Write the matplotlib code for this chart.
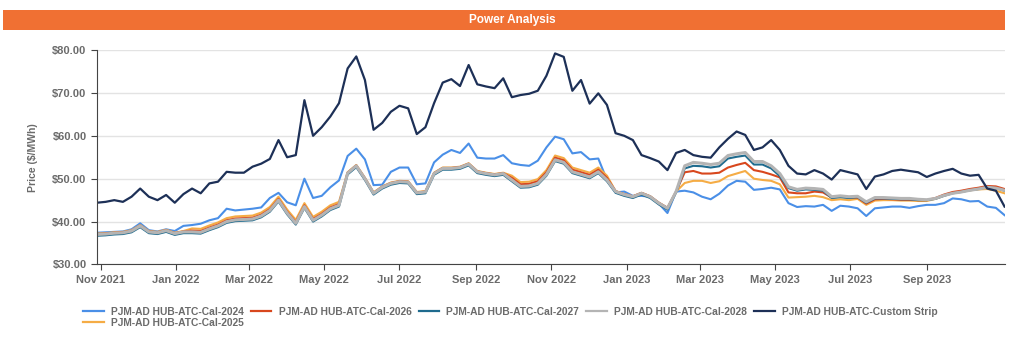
import matplotlib
matplotlib.use("Agg")
import matplotlib.pyplot as plt
import matplotlib.dates as mdates
from matplotlib.patches import Rectangle
from matplotlib.ticker import FuncFormatter
import pandas as pd

# weekly closing prices, $/MWh
dates = pd.date_range("2021-10-29", periods=106, freq="7D")

cal_2024 = [37.4, 37.5, 37.6, 37.7, 38.2, 39.6, 38.0, 37.7, 38.2, 37.8,
            39.0, 39.2, 39.5, 40.3, 40.8, 43.0, 42.6, 42.8, 43.0, 43.3,
            45.5, 46.7, 44.5, 43.8, 50.0, 45.5, 46.0, 48.0, 49.6, 55.3,
            57.0, 54.5, 48.5, 48.6, 51.6, 52.6, 52.6, 48.7, 48.9, 53.8,
            55.6, 56.7, 56.0, 58.2, 54.9, 54.7, 54.7, 55.5, 53.6, 53.2,
            53.0, 54.2, 57.3, 59.8, 59.2, 55.9, 56.2, 54.5, 54.7, 49.7,
            46.8, 47.0, 46.0, 46.0, 45.8, 44.2, 42.0, 47.0, 47.2, 46.8,
            45.8, 45.2, 46.5, 48.4, 49.5, 49.3, 47.4, 47.6, 47.9, 47.5,
            44.3, 43.4, 43.6, 43.5, 43.9, 42.5, 43.7, 43.5, 43.1, 41.3,
            43.1, 43.3, 43.5, 43.5, 43.2, 43.6, 43.9, 43.9, 44.3, 45.4,
            45.2, 44.7, 44.8, 43.5, 43.2, 41.5]

cal_2025 = [37.2, 37.3, 37.5, 37.6, 38.0, 39.2, 37.8, 37.6, 38.1, 37.4,
            37.8, 38.4, 38.3, 39.1, 39.8, 40.8, 41.2, 41.3, 41.4, 42.1,
            43.4, 45.8, 42.8, 40.4, 44.3, 41.1, 42.3, 43.8, 44.6, 51.5,
            53.2, 50.2, 46.8, 48.2, 49.1, 49.5, 49.4, 46.9, 47.1, 51.4,
            52.6, 52.6, 52.8, 53.6, 51.8, 51.4, 51.1, 51.4, 50.7, 49.2,
            49.3, 49.9, 52.0, 55.4, 54.8, 52.6, 52.0, 51.4, 52.6, 50.7,
            47.1, 46.4, 45.9, 46.7, 45.9, 44.4, 43.2, 47.0, 49.0, 49.5,
            49.5, 49.0, 49.4, 50.6, 51.2, 51.8, 50.0, 49.7, 49.5, 48.7,
            45.6, 45.7, 45.8, 46.0, 45.7, 45.0, 45.2, 45.0, 45.3, 43.9,
            44.9, 45.0, 45.0, 44.9, 44.9, 44.8, 44.8, 45.3, 46.1, 46.7,
            47.0, 47.3, 47.5, 47.6, 47.2, 46.6]

cal_2026 = [37.1, 37.2, 37.4, 37.5, 37.9, 39.1, 37.7, 37.5, 38.0, 37.3,
            37.7, 37.9, 37.8, 38.6, 39.3, 40.3, 40.7, 40.8, 40.9, 41.6,
            42.9, 45.3, 42.3, 39.9, 43.8, 40.6, 41.8, 43.3, 44.1, 51.4,
            53.1, 50.1, 46.7, 48.1, 49.0, 49.4, 49.3, 46.8, 47.0, 51.3,
            52.5, 52.5, 52.7, 53.5, 51.7, 51.3, 51.0, 51.3, 50.2, 48.7,
            48.8, 49.4, 51.5, 54.9, 54.3, 52.1, 51.5, 50.9, 52.1, 50.2,
            47.1, 46.4, 45.9, 46.7, 45.9, 44.4, 43.2, 47.0, 51.5, 51.8,
            51.2, 51.2, 51.4, 52.6, 53.2, 53.7, 52.0, 51.6, 51.0, 50.3,
            46.8, 46.6, 46.6, 47.0, 46.8, 45.6, 45.8, 45.6, 45.6, 44.2,
            45.2, 45.3, 45.2, 45.1, 45.1, 45.0, 45.0, 45.5, 46.3, 46.9,
            47.2, 47.6, 47.9, 48.3, 48.2, 47.6]

cal_2027 = [36.7, 36.8, 37.0, 37.1, 37.5, 38.7, 37.3, 37.1, 37.6, 36.9,
            37.3, 37.3, 37.2, 38.0, 38.7, 39.7, 40.1, 40.2, 40.3, 41.0,
            42.3, 44.7, 41.7, 39.3, 43.2, 40.0, 41.2, 42.7, 43.5, 51.0,
            52.7, 49.7, 46.3, 47.7, 48.6, 49.0, 48.9, 46.4, 46.6, 50.9,
            52.1, 52.1, 52.3, 53.1, 51.3, 50.9, 50.6, 50.9, 49.4, 47.9,
            48.0, 48.6, 50.7, 54.1, 53.5, 51.3, 50.7, 50.1, 51.3, 49.4,
            46.7, 46.0, 45.5, 46.3, 45.5, 44.0, 42.8, 46.8, 52.4, 53.0,
            52.9, 52.6, 52.9, 54.7, 55.1, 55.4, 53.3, 53.3, 52.4, 50.6,
            47.8, 47.2, 47.5, 47.4, 47.2, 45.5, 45.7, 45.5, 45.7, 44.4,
            45.4, 45.4, 45.3, 45.2, 45.2, 45.0, 45.0, 45.3, 46.0, 46.6,
            46.9, 47.3, 47.6, 48.0, 47.8, 47.2]

cal_2028 = [37.0, 37.1, 37.3, 37.4, 37.8, 39.0, 37.6, 37.4, 37.9, 37.2,
            37.6, 37.6, 37.5, 38.3, 39.0, 40.0, 40.4, 40.5, 40.6, 41.3,
            42.6, 45.0, 42.0, 39.6, 43.5, 40.3, 41.5, 43.0, 43.8, 51.3,
            53.0, 50.0, 46.6, 48.0, 48.9, 49.3, 49.2, 46.7, 46.9, 51.2,
            52.4, 52.4, 52.6, 53.4, 51.6, 51.2, 50.9, 51.2, 49.7, 48.2,
            48.3, 48.9, 51.0, 54.4, 53.8, 51.6, 51.0, 50.4, 51.6, 49.7,
            47.0, 46.3, 45.8, 46.6, 45.8, 44.3, 43.1, 47.0, 53.0, 53.8,
            53.6, 53.3, 53.6, 55.4, 55.8, 56.1, 54.0, 54.0, 53.0, 51.2,
            48.1, 47.5, 47.8, 47.7, 47.5, 45.8, 46.0, 45.8, 45.9, 44.6,
            45.6, 45.6, 45.5, 45.4, 45.4, 45.2, 45.1, 45.4, 46.1, 46.6,
            46.9, 47.3, 47.6, 48.0, 47.8, 47.3]

custom_strip = [44.4, 44.6, 45.0, 44.6, 45.8, 47.7, 45.8, 45.0, 46.2, 44.4,
                46.4, 47.7, 46.6, 48.9, 49.3, 51.6, 51.4, 51.4, 52.8, 53.5,
                54.6, 59.0, 55.0, 55.5, 68.3, 60.0, 62.0, 64.5, 67.6, 75.7,
                78.5, 73.0, 61.4, 63.0, 65.6, 67.0, 66.4, 60.4, 62.0, 67.6,
                72.4, 73.2, 71.6, 76.5, 72.0, 71.5, 71.1, 73.4, 69.0, 69.5,
                69.8, 70.5, 74.0, 79.2, 78.4, 70.5, 73.0, 67.5, 69.9, 67.2,
                60.6, 60.0, 59.0, 55.5, 54.8, 54.0, 52.0, 56.0, 56.7, 55.5,
                55.1, 54.9, 57.3, 59.3, 61.0, 60.2, 56.7, 57.3, 59.0, 56.7,
                53.0, 51.2, 51.0, 52.0, 51.2, 49.8, 52.0, 51.5, 51.0, 47.6,
                50.5, 51.0, 51.8, 52.1, 51.8, 51.5, 50.4, 51.2, 51.8, 52.3,
                51.2, 50.7, 50.9, 47.7, 47.2, 43.5]

series = [
    ("PJM-AD HUB-ATC-Cal-2024", cal_2024, "#4a8fe7", 1.5),
    ("PJM-AD HUB-ATC-Cal-2025", cal_2025, "#f5ac45", 1.5),
    ("PJM-AD HUB-ATC-Cal-2026", cal_2026, "#d8471d", 1.5),
    ("PJM-AD HUB-ATC-Cal-2027", cal_2027, "#1f6b8e", 1.5),
    ("PJM-AD HUB-ATC-Cal-2028", cal_2028, "#b4b4b4", 2.2),
    ("PJM-AD HUB-ATC-Custom Strip", custom_strip, "#1d3057", 1.6),
]

txt = "#6b6b6b"
plt.rcParams["font.family"] = ["Liberation Sans", "DejaVu Sans"]

fig = plt.figure(figsize=(10.24, 3.39), dpi=100)

# orange title bar
fig.patches.append(Rectangle((0.003, 0.911), 0.978, 0.059, transform=fig.transFigure,
                             facecolor="#f07033", edgecolor="none"))
fig.text(0.5, 0.940, "Power Analysis", color="white", fontsize=8.5, fontweight="bold",
         ha="center", va="center")

ax = fig.add_axes([0.0947, 0.2198, 0.8863, 0.6327])
for label, vals, col, lw in series:
    ax.plot(dates, vals, color=col, lw=lw, label=label)

ax.set_ylim(30, 80)
ax.set_yticks(range(30, 81, 10))
ax.yaxis.set_major_formatter(FuncFormatter(lambda v, p: f"${v:.2f}"))
ax.set_xlim(pd.Timestamp("2021-10-29"), pd.Timestamp("2023-11-03"))
ax.set_xticks(pd.date_range("2021-11-01", "2023-09-01", freq="2MS"))
ax.xaxis.set_major_formatter(mdates.DateFormatter("%b %Y"))

ax.grid(axis="y", color="#e3e3e3", lw=1)
ax.set_axisbelow(True)
for s in ["top", "right"]:
    ax.spines[s].set_visible(False)
for s in ["left", "bottom"]:
    ax.spines[s].set_color("#444444")
ax.tick_params(axis="both", colors="#444444", labelcolor=txt, labelsize=8, length=4)
for lab in ax.get_xticklabels() + ax.get_yticklabels():
    lab.set_fontweight("bold")
ax.set_ylabel("Price ($/MWh)", color=txt, fontsize=7.5, fontweight="bold", labelpad=10)

leg = fig.legend(loc="lower left", bbox_to_anchor=(0.072, 0.005), ncol=5, frameon=False,
                 fontsize=7.4, handlelength=2.0, handletextpad=0.7,
                 columnspacing=0.7, labelspacing=0.15)
for t in leg.get_texts():
    t.set_color(txt)
    t.set_fontweight("bold")
for h in leg.get_lines():
    h.set_linewidth(1.6)

fig.savefig("out.png", dpi=100)
